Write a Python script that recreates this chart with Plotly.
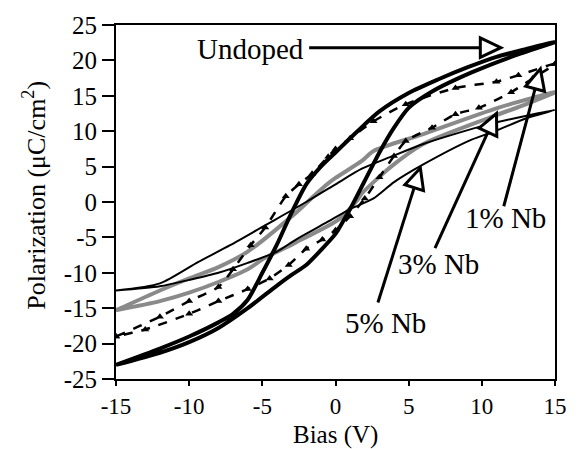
import plotly.graph_objects as go

# ---------------- data ----------------
# Undoped
und_up_v = [15, 13, 11, 9, 7, 5, 3, 1.5, 0, -1, -2, -3, -4, -5, -6, -7, -8, -10, -12, -15]
und_up_p = [22.6, 21.6, 20.5, 19.0, 17.3, 15.4, 12.8, 10.0, 7.0, 5.0, 2.5, -1.5, -6.0, -10.0, -13.8, -15.8, -17.0, -19.0, -20.7, -23.0]
und_lo_v = [-15, -12, -10, -8, -6, -4, -3, -2, -1, 0, 0.5, 1, 2, 3, 4, 5, 6.6, 9.3, 12, 15]
und_lo_p = [-23.0, -21.3, -19.8, -17.8, -15.0, -11.8, -10.3, -8.9, -6.8, -4.5, -2.8, -1.0, 3.0, 7.0, 10.5, 13.3, 15.6, 18.3, 20.5, 22.6]

# 1% Nb
nb1_up_v = [15, 12.5, 11, 8.2, 4.8, 2.6, 1, 0, -0.5, -1.6, -2.5, -3.4, -4.8, -5.8, -7, -8, -10, -12, -15]
nb1_up_p = [19.5, 17.9, 17.0, 16.1, 13.8, 11.4, 9.0, 7.5, 6.4, 4.0, 2.5, 0.8, -3.6, -6.1, -9.5, -12.0, -14.0, -16.2, -19.0]
nb1_lo_v = [-15, -13, -10, -8, -6, -4.5, -3.2, -2, -0.9, 0, 1, 2, 3, 4, 4.8, 6.6, 8.2, 9.8, 12, 13.5, 15]
nb1_lo_p = [-19.0, -18.0, -15.8, -14.0, -12.3, -10.8, -8.9, -6.6, -5.3, -4.0, -2.0, 0.5, 3.5, 6.5, 8.6, 10.5, 12.4, 13.3, 15.5, 17.5, 19.5]

# 3% Nb
nb3_up_v = [15, 11.1, 6, 2.6, 1.8, 0, -0.7, -1.5, -2.7, -6, -8, -10, -12, -15]
nb3_up_p = [15.5, 13.3, 9.6, 7.2, 5.8, 3.4, 2.3, 0.8, -1.5, -7.0, -9.2, -10.8, -12.5, -15.3]
nb3_lo_v = [-15, -12, -10, -8, -6, -4.9, -2.7, 0.2, 1.5, 1.8, 3.8, 6, 10.5, 13, 15]
nb3_lo_p = [-15.3, -14.0, -12.8, -11.3, -9.5, -8.0, -5.7, -2.5, 0.3, 1.2, 5.0, 8.2, 11.9, 13.8, 15.5]

# 5% Nb
nb5_up_v = [15, 10.5, 6, 3.8, 1.8, 0, -2, -4.9, -7.2, -9.4, -12, -15]
nb5_up_p = [13.0, 11.0, 8.2, 6.4, 4.7, 2.5, 0.0, -3.4, -6.1, -8.5, -11.5, -12.5]
nb5_lo_v = [-15, -12, -10, -8, -6, -4, -2.7, -0.7, 1, 2.6, 4, 6, 9.3, 10.9, 13, 15]
nb5_lo_p = [-12.5, -11.9, -11.0, -10.0, -8.6, -7.0, -5.3, -3.0, -1.0, 0.5, 2.8, 5.3, 8.8, 10.0, 11.8, 13.0]

x_ticks = [-15, -10, -5, 0, 5, 10, 15]
x_labels = ["-15", "-10", "-5", "0", "5", "10", "15"]
y_ticks = [-25, -20, -15, -10, -5, 0, 5, 10, 15, 20, 25]
y_labels = ["-25", "-20", "-15", "-10", "-5", "0", "5", "10", "15", "20", "25"]

FONT = "Liberation Serif"

fig = go.Figure()

fig.add_trace(go.Scatter(x=nb3_up_v + nb3_lo_v, y=nb3_up_p + nb3_lo_p, mode="lines",
                         line=dict(color="#8a8a8a", width=4, shape="spline", smoothing=0.7), name="3% Nb"))
fig.add_trace(go.Scatter(x=nb5_up_v + nb5_lo_v, y=nb5_up_p + nb5_lo_p, mode="lines",
                         line=dict(color="black", width=2, shape="spline", smoothing=0.7), name="5% Nb"))
fig.add_trace(go.Scatter(x=nb1_up_v + nb1_lo_v, y=nb1_up_p + nb1_lo_p, mode="lines+markers",
                         line=dict(color="black", width=2.5, dash="dash", shape="spline", smoothing=0.7),
                         marker=dict(symbol="triangle-up", size=7, color="black"), name="1% Nb"))
fig.add_trace(go.Scatter(x=und_up_v + und_lo_v, y=und_up_p + und_lo_p, mode="lines",
                         line=dict(color="black", width=4, shape="spline", smoothing=0.7), name="Undoped"))

# ---------------- open-triangle arrows ----------------
SX = 449 / 30.0   # px per volt
SY = 361 / 50.0   # px per uC/cm2


def add_arrow(x0, y0, x1, y1, L=21, W=10):
    dxp = (x1 - x0) * SX
    dyp = (y1 - y0) * SY
    n = (dxp ** 2 + dyp ** 2) ** 0.5
    ux, uy = dxp / n, dyp / n
    bx, by = x1 - L * ux / SX, y1 - L * uy / SY
    c1 = (bx - W * uy / SX, by + W * ux / SY)
    c2 = (bx + W * uy / SX, by - W * ux / SY)
    fig.add_shape(type="line", xref="x", yref="y", x0=x0, y0=y0, x1=bx, y1=by,
                  line=dict(color="black", width=3))
    path = f"M {c1[0]},{c1[1]} L {x1},{y1} L {c2[0]},{c2[1]} Z"
    fig.add_shape(type="path", xref="x", yref="y", path=path,
                  line=dict(color="black", width=3), fillcolor="white")


add_arrow(-1.8, 21.8, 11.3, 21.8)
add_arrow(11.5, -0.6, 14.0, 18.8)
add_arrow(6.8, -6.5, 11.0, 12.5)
add_arrow(2.9, -14.2, 5.8, 4.8)

ann_font = dict(family=FONT, size=29, color="black")
fig.add_annotation(x=-5.8, y=21.6, xref="x", yref="y", text="Undoped", showarrow=False, font=ann_font)
fig.add_annotation(x=11.65, y=-2.2, xref="x", yref="y", text="1% Nb", showarrow=False, font=ann_font)
fig.add_annotation(x=7.05, y=-8.8, xref="x", yref="y", text="3% Nb", showarrow=False, font=ann_font)
fig.add_annotation(x=3.45, y=-17.1, xref="x", yref="y", text="5% Nb", showarrow=False, font=ann_font)

# axis titles
fig.add_annotation(x=-0.185, y=0.52, xref="paper", yref="paper", xanchor="center", yanchor="middle",
                   text="Polarization (μC/cm<sup>2</sup>)",
                   textangle=-90, showarrow=False, font=dict(family=FONT, size=26, color="black"))
fig.add_annotation(x=0.5, y=-0.158, xref="paper", yref="paper", xanchor="center", yanchor="middle",
                   text="Bias (V)",
                   showarrow=False, font=dict(family=FONT, size=25, color="black"))

axis_common = dict(showline=True, linecolor="black", linewidth=2, mirror=True, showgrid=False,
                   zeroline=False, ticks="outside", tickcolor="black", tickwidth=2)
fig.update_xaxes(range=[-15, 15], tickvals=x_ticks, ticktext=x_labels, ticklen=5,
                 tickfont=dict(family=FONT, size=23, color="black"), **axis_common)
fig.update_yaxes(range=[-25, 25], tickvals=y_ticks, ticktext=y_labels, ticklen=12,
                 tickfont=dict(family=FONT, size=25, color="black"), **axis_common)

fig.update_layout(width=579, height=449, margin=dict(l=116, r=14, t=18, b=70),
                  plot_bgcolor="white", paper_bgcolor="white", showlegend=False)

fig.write_html("out.html")
